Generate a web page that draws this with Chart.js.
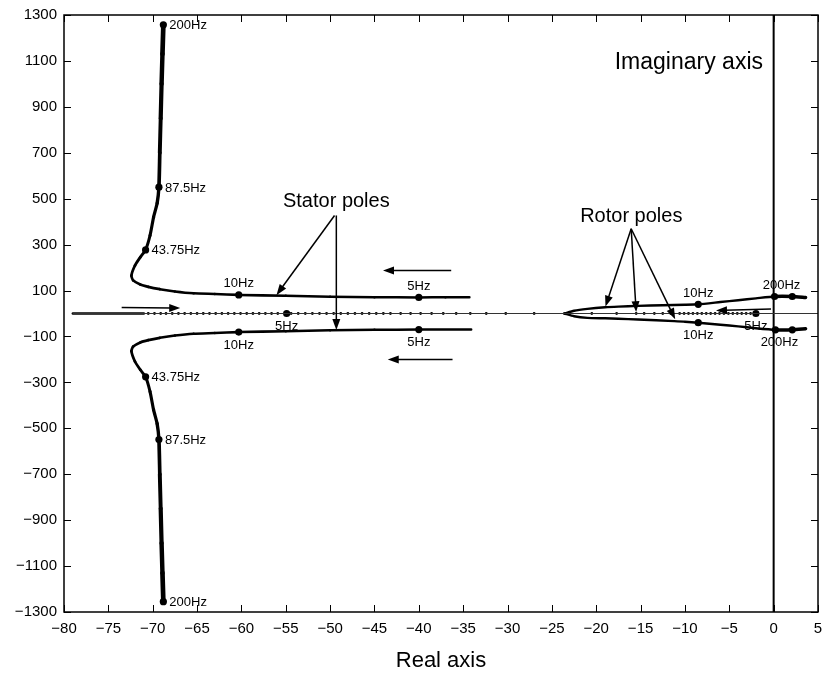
<!DOCTYPE html>
<html>
<head>
<meta charset="utf-8">
<script src="https://cdn.jsdelivr.net/npm/chart.js@4.4.1/dist/chart.umd.min.js"></script>
<style>
  html, body { margin: 0; padding: 0; background: #fff; }
  #wrap { width: 822px; height: 675px; }
</style>
</head>
<body>
<div id="wrap"><canvas id="chart"></canvas></div>
<script>
// Stator pole loci, from the 5Hz end (right) to the 200Hz end
const statorUpperX = [-34.3, -37, -40, -45, -50, -55, -60.3, -63, -65.4, -67.5, -69.2, -70.5, -71.4, -72.2, -72.4, -72.0, -71.4, -70.8, -70.3, -69.9, -69.5, -69.3, -69.2, -69.1, -69.0, -68.9, -68.8];
const statorUpperY = [71, 71, 70, 71, 73, 77, 81, 85, 88, 96, 106, 116, 126, 144, 165, 209, 245, 277, 340, 420, 480, 550, 700, 850, 1000, 1130, 1257];
const statorLowerX = [-34.1, -37, -40, -45, -50, -55, -60.3, -63, -65.4, -67.5, -69.2, -70.5, -71.4, -72.2, -72.4, -72.0, -71.4, -70.8, -70.3, -69.9, -69.5, -69.3, -69.2, -69.1, -69.0, -68.9, -68.8];
const statorLowerY = [-70, -70, -70, -71, -73, -77, -81, -85, -88, -96, -106, -116, -126, -144, -164, -209, -245, -276, -340, -420, -480, -549, -700, -850, -1000, -1130, -1255];

// Rotor pole loci, from the 200Hz end (right) to the tip on the real axis
const rotorUpperX = [3.6, 2.1, 0.1, -2, -4, -6, -8.5, -10, -12.5, -15.3, -17.5, -19, -21, -22.5, -23.6];
const rotorUpperY = [70, 74, 74, 66, 58, 50, 40, 38, 36, 33, 30, 27, 20, 12, 0];
const rotorLowerX = [3.6, 2.1, 0.2, -2, -4, -6, -8.5, -10, -11.2, -15.3, -17.5, -19, -21, -22.5, -23.6];
const rotorLowerY = [-66, -71, -71, -64, -56, -49, -40, -36, -33, -26, -23, -21, -19, -12, 0];

// Real poles travelling along the real axis
const realSolidX = [-79, -71];
const realAxisX = [-79, 5];
const realDotsX = [-70.5, -69.8, -69.1, -68.5, -67.8, -67.1, -66.4, -65.7, -65.0, -64.3, -63.6, -62.9, -62.2, -61.5, -60.8, -60.1, -59.4, -58.7,
  -58.0, -57.3, -56.6, -55.9, -54.4, -53.6, -52.8, -52.0, -51.2, -50.4, -49.6, -48.8, -48.0, -47.2, -46.4, -45.6, -44.8, -44.0, -43.2,
  -42.05, -40.93, -39.8, -38.56, -37.25, -35.79, -34.2, -32.4, -30.2, -27.0, -20.5, -17.7, -15.5, -14.6, -13.45, -12.5, -11.6,
  -10.6, -10.1, -9.6, -9.1, -8.6, -8.1, -7.6, -7.1, -6.6, -6.1, -5.6, -5.1, -4.6, -4.1, -3.6, -3.1, -2.6];

// Frequency markers
const markX = [-68.8, -69.3, -70.8, -60.3, -40, -60.3, -40, -70.8, -69.3, -68.8, -54.9, -8.5, -8.5, 0.1, 2.1, 0.2, 2.1, -2];
const markY = [1257, 550, 277, 81, 70, -81, -70, -276, -549, -1255, 0, 40, -40, 74, 74, -71, -71, 0];
const markLabel = ['200Hz', '87.5Hz', '43.75Hz', '10Hz', '5Hz', '10Hz', '5Hz', '43.75Hz', '87.5Hz', '200Hz', '5Hz', '10Hz', '10Hz', '200Hz', '', '200Hz', '', '5Hz'];
const markPlace = ['r', 'r', 'r', 'a', 'a', 'b', 'b', 'r', 'r', 'r', 'b', 'a', 'b', 'a', '', 'b', '', 'b'];

const xTicksMin = -80, xTicksMax = 5, xStep = 5;
const yTicksMin = -1300, yTicksMax = 1300, yStep = 200;

// annotation texts and arrows (data coordinates)
const notes = [
  { text: 'Stator poles', x: -49.3, y: 490, size: 20, align: 'center' },
  { text: 'Rotor poles', x: -16.05, y: 422, size: 20, align: 'center' },
  { text: 'Imaginary axis', x: -1.2, y: 1093, size: 23, align: 'right' }
];
const arrows = [
  [-49.5, 427, -56.05, 80],
  [-49.3, 427, -49.3, -72],
  [-36.35, 187, -44.04, 187],
  [-36.2, -200, -43.5, -200],
  [-73.5, 26, -66.9, 24],
  [-16.06, 369, -18.96, 30],
  [-16.06, 369, -15.5, 6],
  [-16.06, 369, -11.1, -25],
  [-0.3, 20, -6.5, 13]
];

const zip = (xs, ys) => xs.map((x, i) => ({ x, y: ys[i] }));
const flat = xs => xs.map(x => ({ x, y: 0 }));
const minus = v => String(v).replace('-', '\u2212');
const FONT = "'Liberation Sans', Arial, Helvetica, sans-serif";

function drawArrow(ctx, x1, y1, x2, y2) {
    const ang = Math.atan2(y2 - y1, x2 - x1);
    const len = 11, half = 4;
    ctx.beginPath();
    ctx.moveTo(x1, y1);
    ctx.lineTo(x2 - Math.cos(ang) * len * 0.8, y2 - Math.sin(ang) * len * 0.8);
    ctx.stroke();
    ctx.beginPath();
    ctx.moveTo(x2, y2);
    ctx.lineTo(x2 - Math.cos(ang) * len + Math.sin(ang) * half, y2 - Math.sin(ang) * len - Math.cos(ang) * half);
    ctx.lineTo(x2 - Math.cos(ang) * len - Math.sin(ang) * half, y2 - Math.sin(ang) * len + Math.cos(ang) * half);
    ctx.closePath();
    ctx.fill();
}

const decorations = {
    id: 'decorations',
    beforeDatasetsDraw(chart) {
        const { ctx, chartArea: a, scales: { x } } = chart;
        const x0 = x.getPixelForValue(0);
        ctx.save();
        ctx.strokeStyle = '#000';
        ctx.lineWidth = 2;
        ctx.beginPath();
        ctx.moveTo(x0, a.top);
        ctx.lineTo(x0, a.bottom);
        ctx.stroke();
        ctx.restore();
    },
    afterDatasetsDraw(chart) {
        const { ctx, chartArea: a, scales: { x, y } } = chart;
        ctx.save();
        ctx.fillStyle = '#000';
        ctx.strokeStyle = '#000';

        // frequency labels
        ctx.font = '13px ' + FONT;
        markLabel.forEach((lab, i) => {
            if (!lab) return;
            const px = x.getPixelForValue(markX[i]);
            const py = y.getPixelForValue(markY[i]);
            ctx.textBaseline = 'middle';
            if (markPlace[i] === 'r') {
                ctx.textAlign = 'left';
                ctx.fillText(lab, px + 6, py + 1);
            } else if (markPlace[i] === 'a') {
                ctx.textAlign = 'center';
                ctx.fillText(lab, px + (markX[i] >= 0 ? 7 : 0), py - 11);
            } else {
                ctx.textAlign = 'center';
                ctx.fillText(lab, px + (markX[i] >= 0 ? 4 : 0), py + 13);
            }
        });

        // annotation texts
        notes.forEach(n => {
            ctx.font = n.size + 'px ' + FONT;
            ctx.textAlign = n.align;
            ctx.textBaseline = 'middle';
            ctx.fillText(n.text, x.getPixelForValue(n.x), y.getPixelForValue(n.y));
        });

        // arrows
        ctx.lineWidth = 1.5;
        arrows.forEach(([x1, y1, x2, y2]) => {
            drawArrow(ctx, x.getPixelForValue(x1), y.getPixelForValue(y1), x.getPixelForValue(x2), y.getPixelForValue(y2));
        });

        // box with inward ticks
        ctx.lineWidth = 1.5;
        ctx.strokeRect(a.left, a.top, a.right - a.left, a.bottom - a.top);
        ctx.lineWidth = 1;
        const tl = 7;
        ctx.beginPath();
        x.ticks.forEach(t => {
            const px = Math.round(x.getPixelForValue(t.value)) + 0.5;
            ctx.moveTo(px, a.top); ctx.lineTo(px, a.top + tl);
            ctx.moveTo(px, a.bottom); ctx.lineTo(px, a.bottom - tl);
        });
        y.ticks.forEach(t => {
            const py = Math.round(y.getPixelForValue(t.value)) + 0.5;
            ctx.moveTo(a.left, py); ctx.lineTo(a.left + tl, py);
            ctx.moveTo(a.right, py); ctx.lineTo(a.right - tl, py);
        });
        ctx.stroke();
        ctx.restore();
    }
};

const lineDs = (data, width, extra) => Object.assign({
    data, showLine: true, borderColor: '#000', backgroundColor: '#000',
    borderWidth: width, pointRadius: 0, tension: 0.2, borderCapStyle: 'round', borderJoinStyle: 'round'
}, extra || {});

const statorWidth = { segment: { borderWidth: c => 2.4 + Math.abs(c.p1.parsed.y) / 550 } };
const rotorWidth = { segment: { borderWidth: c => (c.p1.parsed.x > -1 ? 3.5 : 2.4) } };

new Chart(document.getElementById('chart'), {
    type: 'scatter',
    data: {
        datasets: [
            lineDs(flat(realAxisX), 1, { borderColor: '#333', tension: 0 }),
            lineDs(flat(realSolidX), 2.5, { tension: 0 }),
            lineDs(zip(statorUpperX, statorUpperY), 2.5, statorWidth),
            lineDs(zip(statorLowerX, statorLowerY), 2.5, statorWidth),
            lineDs(zip(rotorUpperX, rotorUpperY), 2.5, rotorWidth),
            lineDs(zip(rotorLowerX, rotorLowerY), 2.5, rotorWidth),
            { data: flat(realDotsX), showLine: false, pointRadius: 1.4, pointBackgroundColor: '#000', pointBorderWidth: 0 },
            { data: zip(markX, markY), showLine: false, pointRadius: 3.6, pointBackgroundColor: '#000', pointBorderWidth: 0 }
        ]
    },
    options: {
        responsive: true,
        maintainAspectRatio: false,
        animation: false,
        layout: { padding: { top: 15, right: 3, left: 0, bottom: 0 } },
        plugins: { legend: { display: false }, tooltip: { enabled: false } },
        scales: {
            x: {
                type: 'linear',
                min: xTicksMin,
                max: xTicksMax,
                grid: { display: false, drawTicks: false },
                border: { display: false },
                ticks: {
                    stepSize: xStep, autoSkip: false, maxRotation: 0, padding: 8,
                    color: '#000', font: { family: FONT, size: 15 },
                    callback: v => minus(v)
                },
                title: {
                    display: true, text: 'Real axis', color: '#000',
                    font: { family: FONT, size: 22 }, padding: { top: 0, bottom: 1 }
                },
                afterFit: s => { s.height = 63; s.paddingLeft = 0; s.paddingRight = 0; }
            },
            y: {
                type: 'linear',
                min: yTicksMin,
                max: yTicksMax,
                grid: { display: false, drawTicks: false },
                border: { display: false },
                ticks: {
                    stepSize: yStep, autoSkip: false, padding: 7,
                    color: '#000', font: { family: FONT, size: 15 },
                    callback: v => minus(v)
                },
                afterFit: s => { s.width = 64; s.paddingTop = 0; s.paddingBottom = 0; }
            }
        }
    },
    plugins: [decorations]
});
</script>
</body>
</html>
